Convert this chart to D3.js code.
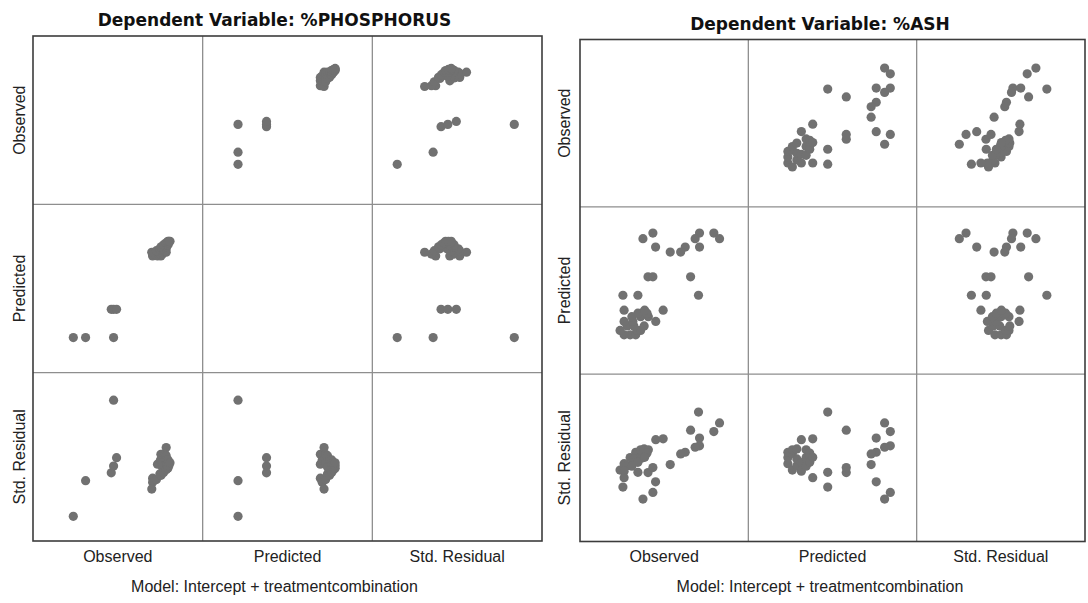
<!DOCTYPE html>
<html><head><meta charset="utf-8">
<script src="https://cdn.jsdelivr.net/npm/d3@7"></script>
<style>body{margin:0;background:#fff} svg{display:block}</style>
</head><body><svg id="chart" width="1088" height="603"></svg>
<script>
// ---- data ----
const variables = ["Observed", "Predicted", "Std. Residual"];
const phosTitle = "Dependent Variable: %PHOSPHORUS";
const ashTitle = "Dependent Variable: %ASH";
const modelText = "Model: Intercept + treatmentcombination";

const phosObserved = [0.290,0.348,0.480, 0.469,0.480,0.494, 0.664,0.687,0.703, 0.664,0.701,0.710,
  0.660,0.708,0.728, 0.682,0.710,0.723, 0.698,0.710,0.728, 0.704,0.727,0.729, 0.716,0.730,0.737,
  0.728,0.740,0.737, 0.736,0.741,0.746];
const phosPredicted = [0.373,0.373,0.373, 0.481,0.481,0.481, 0.685,0.685,0.685, 0.692,0.692,0.692,
  0.699,0.699,0.699, 0.705,0.705,0.705, 0.712,0.712,0.712, 0.720,0.720,0.720, 0.728,0.728,0.728,
  0.735,0.735,0.735, 0.741,0.741,0.741];
const phosStdResidual = [-1.81,-0.54,2.33, -0.26,-0.02,0.28, -0.45,0.05,0.40, -0.60,0.20,0.40,
  -0.84,0.20,0.64, -0.50,0.10,0.40, -0.30,-0.05,0.35, -0.35,0.15,0.20, -0.25,0.05,0.20,
  -0.15,0.10,0.05, -0.10,0.00,0.10];
const phosDomains = [[0.10, 0.90], [0.239, 0.882], [-2.69, 3.31]];

const ashObserved = [4.33,7.10,7.95, 3.74,6.84,8.29, 4.49,6.25,7.10, 5.36,5.98, 4.04,4.33,6.57,
  2.55,3.44,7.04, 2.62,2.98,3.31, 2.38,3.38,3.60, 2.80,3.20,3.81, 2.62,3.14,4.50,
  3.08,3.60,4.06, 3.68,3.98,3.44, 4.94,2.62,3.84];
const ashPredicted = [6.39,6.39,6.39, 6.20,6.20,6.20, 5.92,5.92,5.92, 5.75,5.75, 4.92,4.92,4.92,
  4.30,4.30,4.30, 2.97,2.97,2.97, 3.12,3.12,3.12, 3.27,3.27,3.27, 3.42,3.42,3.42,
  3.58,3.58,3.58, 3.70,3.70,3.70, 3.80,3.80,3.80];
const ashStdResidual = [-1.24,0.43,0.94, -1.48,0.38,1.25, -0.86,0.20,0.71, -0.24,0.14, -0.53,-0.35,0.99,
  -1.05,-0.52,1.64, -0.21,0.01,0.20, -0.44,0.16,0.29, -0.28,-0.04,0.32, -0.48,-0.17,0.65,
  -0.30,0.01,0.29, -0.01,0.17,-0.16, 0.68,-0.71,0.02];
const ashDomains = [[0, 10], [1.65, 7.27], [-3, 3]];

// ---- layout ----
const matrices = [
  { title: phosTitle, cols: [phosObserved, phosPredicted, phosStdResidual], domains: phosDomains,
    x0: 33, y0: 36, w: 509, h: 505, cx: 274.5, titleY: 26, ylabX: 25 },
  { title: ashTitle, cols: [ashObserved, ashPredicted, ashStdResidual], domains: ashDomains,
    x0: 580, y0: 39.5, w: 505, h: 502, cx: 820, titleY: 30, ylabX: 570 }
];

const svg = d3.select("#chart");
svg.append("rect").attr("width", 1088).attr("height", 603).attr("fill", "#fff");

const labelFont = "'Liberation Sans', Arial, sans-serif";

matrices.forEach(m => {
  const g = svg.append("g");
  const cw = m.w / 3, ch = m.h / 3;
  const xs = m.domains.map((d, j) => d3.scaleLinear().domain(d).range([m.x0 + j * cw, m.x0 + (j + 1) * cw]));
  const ys = m.domains.map((d, i) => d3.scaleLinear().domain(d).range([m.y0 + (i + 1) * ch, m.y0 + i * ch]));
  const n = m.cols[0].length;
  const idx = d3.range(n);

  // points
  for (let i = 0; i < 3; i++) {
    for (let j = 0; j < 3; j++) {
      if (i === j) continue;
      g.append("g").selectAll("circle").data(idx).join("circle")
        .attr("cx", k => xs[j](m.cols[j][k]))
        .attr("cy", k => ys[i](m.cols[i][k]))
        .attr("r", 4.6)
        .attr("fill", "#717171");
    }
  }

  // inner grid lines
  for (let k = 1; k < 3; k++) {
    g.append("line").attr("x1", m.x0 + k * cw).attr("x2", m.x0 + k * cw)
      .attr("y1", m.y0).attr("y2", m.y0 + m.h)
      .attr("stroke", "#8e8e8e").attr("stroke-width", 1.3);
    g.append("line").attr("y1", m.y0 + k * ch).attr("y2", m.y0 + k * ch)
      .attr("x1", m.x0).attr("x2", m.x0 + m.w)
      .attr("stroke", "#8e8e8e").attr("stroke-width", 1.3);
  }
  // frame
  g.append("rect").attr("x", m.x0).attr("y", m.y0).attr("width", m.w).attr("height", m.h)
    .attr("fill", "none").attr("stroke", "#3c3c3c").attr("stroke-width", 1.6);

  // title
  g.append("text").attr("x", m.cx).attr("y", m.titleY).attr("text-anchor", "middle")
    .attr("font-family", "'DejaVu Sans', sans-serif").attr("font-weight", "bold")
    .attr("font-size", 17).attr("fill", "#111").text(m.title);

  // x labels
  variables.forEach((v, j) => {
    g.append("text").attr("x", m.x0 + (j + 0.5) * cw).attr("y", 562)
      .attr("text-anchor", "middle").attr("font-family", labelFont)
      .attr("font-size", 16).attr("fill", "#222").text(v);
    g.append("text")
      .attr("transform", `translate(${m.ylabX},${m.y0 + (j + 0.5) * ch}) rotate(-90)`)
      .attr("text-anchor", "middle").attr("font-family", labelFont)
      .attr("font-size", 16).attr("fill", "#222").text(v);
  });

  g.append("text").attr("x", m.cx).attr("y", 592).attr("text-anchor", "middle")
    .attr("font-family", labelFont).attr("font-size", 16).attr("fill", "#222").text(modelText);
});
</script></body></html>
